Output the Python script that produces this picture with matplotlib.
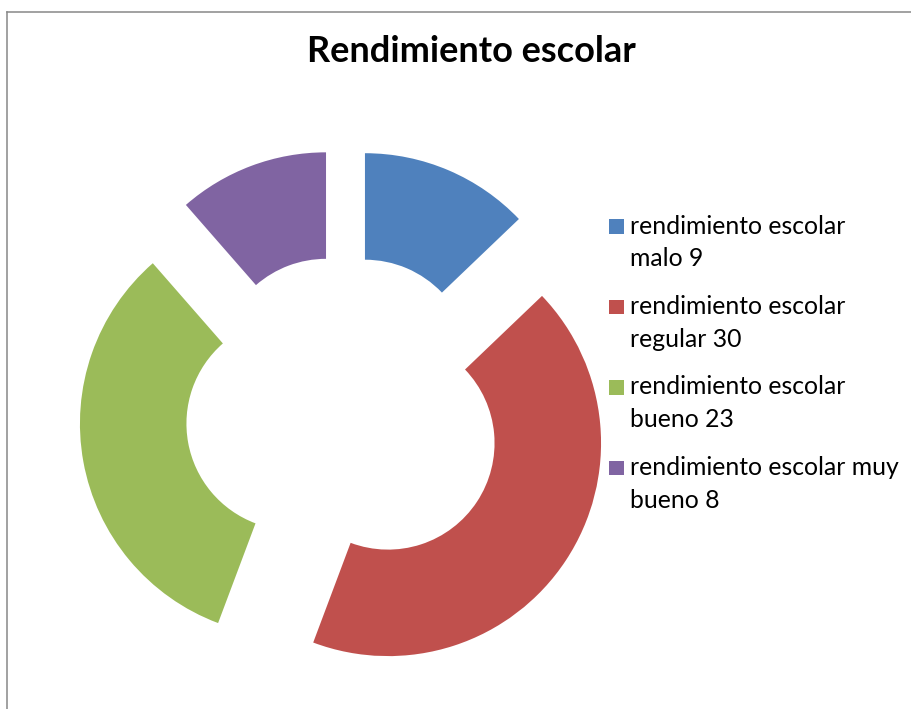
import matplotlib
matplotlib.use("Agg")
import matplotlib.pyplot as plt
from matplotlib.lines import Line2D
from matplotlib.patches import Rectangle

# ---- data ----
categories = ["malo", "regular", "bueno", "muy bueno"]
values = [9, 30, 23, 8]
colors = ["#4F81BD", "#C0504D", "#9BBB59", "#8064A2"]
legend_lines = [
    ["rendimiento escolar", "malo 9"],
    ["rendimiento escolar", "regular 30"],
    ["rendimiento escolar", "bueno 23"],
    ["rendimiento escolar muy", "bueno 8"],
]
title = "Rendimiento escolar"

# ---- layout (pixels) ----
W, H, DPI = 912, 709, 100
cx, cy, R = 344.4, 414.3, 213.0
explode_frac = 52.3 / R
hole_width = 0.5

fig = plt.figure(figsize=(W / DPI, H / DPI), dpi=DPI)
fig.patch.set_facecolor("white")

ax = fig.add_axes([0, 0, 1, 1])
ax.pie(values, colors=colors, startangle=90, counterclock=False,
       explode=[explode_frac] * len(values), radius=1.0,
       wedgeprops=dict(width=hole_width, edgecolor="none", linewidth=0))
ax.set_xlim(-cx / R, (W - cx) / R)
ax.set_ylim(-(H - cy) / R, cy / R)
ax.set_aspect("auto")
ax.axis("off")


def fx(px):
    return px / W


def fy(py):
    return 1 - py / H


# chart frame (top and left visible)
frame_col = "#888888"
fig.add_artist(Line2D([fx(7.5), 1.0], [fy(11.8), fy(11.8)], color=frame_col,
                      lw=1.1, transform=fig.transFigure))
fig.add_artist(Line2D([fx(7.5), fx(7.5)], [fy(11.8), 0.0], color=frame_col,
                      lw=1.1, transform=fig.transFigure))

# title
fig.text(fx(471.5), fy(62.3), title, ha="center", va="baseline",
         fontsize=26, fontweight="bold", family="Lato", color="black")

# legend
leg_x_text = 630
leg_sq_x = 609.3
sq = 14.5
base0 = 233.5
entry_step = 80.5
line_step = 32.7
for i, lines in enumerate(legend_lines):
    b = base0 + entry_step * i
    fig.add_artist(Rectangle((fx(leg_sq_x), fy(b)), sq / W, sq / H,
                             transform=fig.transFigure, facecolor=colors[i],
                             edgecolor="none"))
    for j, t in enumerate(lines):
        fig.text(fx(leg_x_text), fy(b + j * line_step), t, ha="left",
                 va="baseline", fontsize=17.8, family="Lato", color="black")

fig.savefig("out.png", dpi=DPI, facecolor="white")
